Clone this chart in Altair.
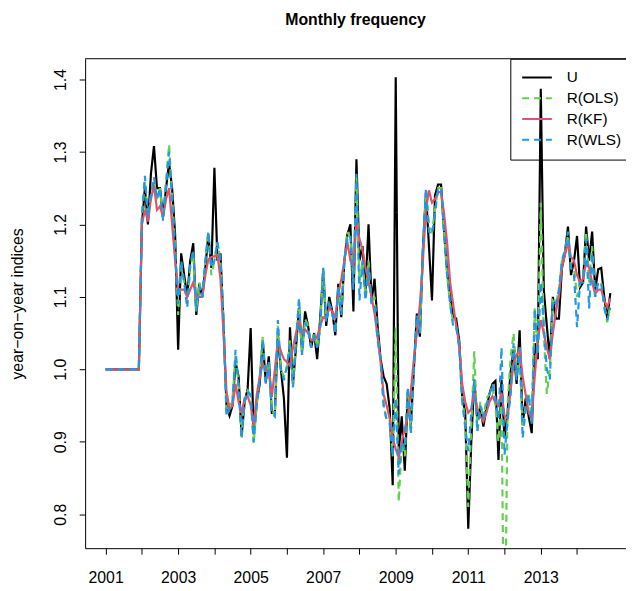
import altair as alt
import pandas as pd

FONT = "Liberation Sans"
START_YEAR = 2001

SERIES = ["U", "R(OLS)", "R(KF)", "R(WLS)"]
COLORS = ["#000000", "#61D04F", "#DF536B", "#2297E6"]
DASHES = [[1, 0], [7, 5], [1, 0], [7, 5]]
X_TICKS = list(range(2001, 2015))
Y_TICKS = [0.8, 0.9, 1.0, 1.1, 1.2, 1.3, 1.4]

U = [1.0] * 12 + [
    1.20, 1.25, 1.20, 1.27, 1.308, 1.25, 1.25, 1.21, 1.25, 1.285, 1.25, 1.186,
    1.027, 1.16, 1.13, 1.10, 1.15, 1.174, 1.075, 1.118, 1.10, 1.14, 1.186, 1.14,
    1.278, 1.15, 1.16, 1.064, 0.95, 0.936, 0.95, 1.01, 0.99, 0.908, 0.955, 0.973,
    1.057, 0.91, 0.955, 0.98, 1.04, 0.982, 1.018, 0.94, 0.94, 1.047, 1.0, 0.96,
    0.878, 1.058, 0.98, 1.03, 1.085, 1.025, 1.08, 1.06, 1.03, 1.05, 1.014, 1.07,
    1.136, 1.06, 1.10, 1.08, 1.047, 1.118, 1.072, 1.15, 1.186, 1.20, 1.08, 1.29,
    1.15, 1.17, 1.11, 1.20, 1.095, 1.125, 1.06, 1.014, 0.99, 0.98, 0.946, 0.84,
    1.403, 0.887, 0.935, 0.86, 0.968, 0.923, 1.0, 1.077, 1.045, 1.167, 1.244, 1.17,
    1.095, 1.24, 1.255, 1.255, 1.19, 1.136, 1.10, 1.072, 1.07, 1.04, 0.963, 0.94,
    0.78, 0.90, 0.986, 0.932, 0.948, 0.921, 0.946, 0.966, 0.98, 0.984, 0.875, 0.986,
    0.905, 0.94, 0.996, 1.027, 0.98, 1.054, 0.923, 0.96, 0.935, 0.912, 1.036, 1.014,
    1.387, 1.11, 1.06, 1.014, 1.10, 1.07, 1.07, 1.14, 1.16, 1.197, 1.13, 1.15,
    1.184, 1.113, 1.12, 1.197, 1.15, 1.19, 1.109, 1.138, 1.14, 1.10, 1.07, 1.105,
]

R_OLS = [1.0] * 12 + [
    1.21, 1.26, 1.21, 1.24, 1.26, 1.235, 1.25, 1.21, 1.26, 1.31, 1.24, 1.17,
    1.075, 1.14, 1.12, 1.09, 1.14, 1.16, 1.08, 1.12, 1.10, 1.15, 1.19, 1.13,
    1.15, 1.175, 1.15, 1.07, 0.94, 0.95, 0.96, 1.02, 0.98, 0.91, 0.96, 0.97,
    0.96, 0.898, 0.95, 0.99, 1.045, 0.985, 1.01, 0.945, 0.935, 1.06, 1.0, 0.99,
    1.0, 1.04, 0.98, 1.04, 1.095, 1.02, 1.07, 1.06, 1.03, 1.05, 1.03, 1.06,
    1.14, 1.07, 1.09, 1.08, 1.05, 1.11, 1.08, 1.15, 1.19, 1.18, 1.12, 1.265,
    1.12, 1.15, 1.10, 1.15, 1.09, 1.10, 1.05, 1.01, 0.95, 0.93, 0.93, 0.88,
    1.058, 0.817, 0.90, 0.88, 0.97, 0.92, 1.0, 1.07, 1.05, 1.16, 1.245, 1.20,
    1.19, 1.22, 1.25, 1.25, 1.19, 1.13, 1.09, 1.065, 1.06, 1.03, 0.96, 0.93,
    0.81, 0.92, 1.025, 0.916, 0.955, 0.93, 0.96, 0.965, 0.975, 0.95, 0.90, 0.96,
    0.55, 0.95, 1.016, 1.05, 0.99, 1.03, 0.92, 0.95, 0.968, 0.93, 1.084, 1.027,
    1.23, 1.05, 0.966, 1.0, 1.095, 1.09, 1.11, 1.15, 1.16, 1.185, 1.14, 1.14,
    1.10, 1.12, 1.13, 1.19, 1.12, 1.17, 1.10, 1.12, 1.12, 1.09, 1.065, 1.09,
]

R_KF = [1.0] * 12 + [
    1.20, 1.22, 1.204, 1.235, 1.254, 1.22, 1.225, 1.21, 1.235, 1.25, 1.20, 1.15,
    1.11, 1.11, 1.11, 1.10, 1.11, 1.12, 1.10, 1.10, 1.10, 1.13, 1.152, 1.155,
    1.156, 1.158, 1.125, 1.05, 0.97, 0.945, 0.95, 0.98, 0.955, 0.94, 0.96, 0.963,
    0.95, 0.923, 0.965, 0.99, 1.007, 1.0, 0.997, 0.962, 1.0, 1.04, 1.025, 1.014,
    1.01, 1.005, 1.03, 1.05, 1.068, 1.05, 1.055, 1.05, 1.04, 1.04, 1.045, 1.06,
    1.072, 1.07, 1.085, 1.08, 1.072, 1.104, 1.125, 1.15, 1.176, 1.15, 1.14, 1.203,
    1.18, 1.165, 1.14, 1.12, 1.10, 1.077, 1.045, 1.01, 0.965, 0.95, 0.932, 0.905,
    0.89, 0.878, 0.90, 0.918, 0.935, 0.97, 1.014, 1.05, 1.09, 1.15, 1.22, 1.247,
    1.23, 1.235, 1.244, 1.245, 1.215, 1.175, 1.12, 1.09, 1.06, 1.036, 0.98, 0.955,
    0.94, 0.945, 0.968, 0.945, 0.935, 0.928, 0.94, 0.955, 0.963, 0.955, 0.95, 0.968,
    0.936, 0.932, 0.97, 1.009, 1.02, 1.027, 0.99, 0.965, 0.94, 0.932, 0.99, 1.04,
    1.068, 1.05, 1.03, 1.014, 1.05, 1.08, 1.10, 1.14, 1.158, 1.174, 1.155, 1.15,
    1.13, 1.12, 1.125, 1.148, 1.14, 1.12, 1.104, 1.11, 1.11, 1.095, 1.086, 1.098,
]

R_WLS = [1.0] * 12 + [
    1.21, 1.267, 1.21, 1.24, 1.265, 1.235, 1.25, 1.205, 1.255, 1.30, 1.235, 1.16,
    1.09, 1.15, 1.12, 1.085, 1.145, 1.165, 1.08, 1.115, 1.10, 1.15, 1.19, 1.14,
    1.15, 1.176, 1.15, 1.07, 0.935, 0.945, 0.955, 1.027, 0.975, 0.905, 0.955, 0.97,
    0.965, 0.90, 0.95, 0.985, 1.04, 0.98, 1.01, 0.94, 0.935, 1.068, 1.0, 0.985,
    1.005, 1.035, 0.975, 1.04, 1.098, 1.02, 1.065, 1.055, 1.03, 1.045, 1.03, 1.055,
    1.14, 1.065, 1.09, 1.08, 1.05, 1.115, 1.075, 1.15, 1.18, 1.185, 1.11, 1.27,
    1.095, 1.15, 1.095, 1.14, 1.09, 1.09, 1.04, 1.014, 0.95, 0.93, 0.925, 0.88,
    0.96, 0.855, 0.90, 0.89, 0.976, 0.91, 1.0, 1.075, 1.05, 1.165, 1.25, 1.19,
    1.186, 1.215, 1.25, 1.25, 1.19, 1.13, 1.09, 1.06, 1.06, 1.03, 0.955, 0.92,
    0.887, 0.94, 0.986, 0.914, 0.95, 0.935, 0.95, 0.965, 0.98, 0.96, 0.932, 1.03,
    0.882, 0.93, 0.963, 1.036, 0.985, 1.03, 0.905, 0.945, 0.965, 0.925, 1.084, 1.02,
    1.12, 1.06, 1.0, 0.986, 1.095, 1.09, 1.11, 1.15, 1.165, 1.19, 1.14, 1.13,
    1.058, 1.12, 1.12, 1.18, 1.084, 1.16, 1.10, 1.12, 1.12, 1.085, 1.068, 1.085,
]

rows = []
for name, vals in zip(SERIES, [U, R_OLS, R_KF, R_WLS]):
    for i, v in enumerate(vals):
        rows.append({"t": START_YEAR + i / 12.0, "value": v, "series": name})
df = pd.DataFrame(rows)

x_enc = alt.X(
    "t:Q",
    scale=alt.Scale(domain=[2000.435, 2015.35], nice=False, zero=False),
    axis=alt.Axis(
        values=X_TICKS,
        labelExpr="datum.value % 2 == 1 ? format(datum.value, 'd') : ''",
        tickSize=6, labelPadding=16, labelFontSize=16, labelFont=FONT,
        labelColor="black", tickColor="black", title=None, grid=False,
        domain=True, domainColor="black", domainWidth=1,
        labelFlush=False, labelOverlap=False,
    ),
)
y_enc = alt.Y(
    "value:Q",
    scale=alt.Scale(domain=[0.7532, 1.4286], nice=False, zero=False),
    axis=alt.Axis(
        values=Y_TICKS, format=".1f", labelAngle=270, labelAlign="center",
        labelBaseline="alphabetic", labelPadding=14, tickSize=6,
        labelFontSize=16, labelFont=FONT, labelColor="black", tickColor="black",
        title="year\u2212on\u2212year indices", titleFont=FONT, titleFontSize=16,
        titleFontWeight="normal", titleColor="black", titleAngle=270,
        titleX=-68, titleY=247.5, titleAlign="center", titleBaseline="middle",
        grid=False, domain=True, domainColor="black", domainWidth=1,
        labelOverlap=False,
    ),
)
# the reference legend box runs past the cropped right edge of the picture,
# so the labels get trailing padding to widen the box past the edge
legend = alt.Legend(
    orient="none", legendX=430, legendY=0, title=None,
    symbolType="stroke", symbolSize=900, symbolStrokeWidth=2,
    clipHeight=16, rowPadding=4, labelFontSize=15.5, labelFont=FONT,
    labelColor="black", labelOffset=14, padding=11, strokeColor="black",
    labelLimit=0,
    labelExpr="datum.label + '\u2007\u2007\u2007\u2007\u2007\u2007\u2007\u2007\u2007\u2007'",
)
color_enc = alt.Color("series:N", scale=alt.Scale(domain=SERIES, range=COLORS), legend=legend)
dash_enc = alt.StrokeDash("series:N", scale=alt.Scale(domain=SERIES, range=DASHES), legend=legend)

layers = []
for s in SERIES:
    layers.append(
        alt.Chart(df)
        .transform_filter(alt.datum.series == s)
        .mark_line(clip=True, strokeWidth=2.2)
        .encode(x=x_enc, y=y_enc, color=color_enc, strokeDash=dash_enc)
    )

# top edge of the plot box (the box continues past the cropped right edge)
top_edge = alt.Chart(df.head(1)).mark_rule(color="black", strokeWidth=1).encode(
    x=alt.value(0), x2=alt.value(547), y=alt.value(0)
)

chart = (
    alt.layer(*layers, top_edge)
    .properties(
        width=547, height=495,
        title=alt.TitleParams(
            "Monthly frequency", fontSize=16, fontWeight="bold", font=FONT,
            anchor="middle", offset=31, color="black",
        ),
        autosize=alt.AutoSizeParams(type="none"),
        padding={"left": 78, "top": 48, "right": 0, "bottom": 40},
        background="white",
    )
    .configure_view(stroke=None)
)

chart.save("out.html", embed_options={"renderer": "svg", "actions": False})
